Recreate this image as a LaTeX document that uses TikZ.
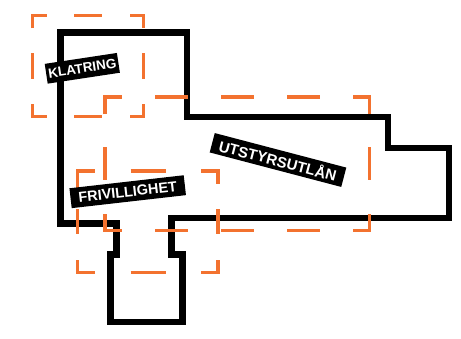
\documentclass[tikz,border=0pt]{standalone}
\usepackage{fontspec}
\setmainfont{Liberation Sans}
\definecolor{planorange}{HTML}{F3722F}
\tikzset{
  wall/.style={draw=black,line width=6.8pt,line join=miter},
  zone/.style={draw=planorange,line width=3.2pt,line cap=butt,line join=miter},
  tag/.style={fill=black,text=white,inner sep=0pt,align=center,minimum height=20pt,font=\bfseries\fontsize{13.5}{14}\selectfont}
}
\begin{document}
\begin{tikzpicture}[x=1pt,y=-1pt]
\useasboundingbox (0,0) rectangle (461,338);
\fill[white] (0,0) rectangle (461,338);
\draw[wall] (60.7,32.5) -- (187,32.5) -- (187,117) -- (388,117) -- (388,148) -- (449,148) -- (449,218) -- (171.7,218) -- (171.7,254.5) -- (182.7,254.5) -- (182.7,322) -- (110.7,322) -- (110.7,254.5) -- (116.7,254.5) -- (116.7,223.5) -- (60.7,223.5) -- cycle;
% zone KLATRING
\draw[zone] (32.7,28) -- (32.7,15.5) -- (46.5,15.5) (74,15.5) -- (102,15.5) (130,15.5) -- (143.7,15.5) -- (143.7,28)
  (32.7,53) -- (32.7,79) (143.7,53) -- (143.7,79)
  (32.7,104) -- (32.7,116.7) -- (46.5,116.7) (74,116.7) -- (102,116.7) (130,116.7) -- (143.7,116.7) -- (143.7,104);
% zone UTSTYRSUTLAN
\draw[zone] (105,114) -- (105,97) -- (121.7,97) (155,97) -- (187.7,97) (221,97) -- (253.5,97) (287,97) -- (320,97) (353,97) -- (369.3,97) -- (369.3,114)
  (105,147) -- (105,180) (369.3,147) -- (369.3,180)
  (105,214) -- (105,230.7) -- (121.7,230.7) (155,230.7) -- (187.7,230.7) (221,230.7) -- (253.5,230.7) (287,230.7) -- (320,230.7) (353,230.7) -- (369.3,230.7) -- (369.3,214);
% zone FRIVILLIGHET
\draw[zone] (77.7,192) -- (77.7,171) -- (95,171) (130.7,171) -- (165.7,171) (201,171) -- (218,171) -- (218,184)
  (77.7,209) -- (77.7,234) (218,209) -- (218,234)
  (77.7,260) -- (77.7,272.7) -- (95,272.7) (130.7,272.7) -- (165.7,272.7) (201,272.7) -- (218,272.7) -- (218,260);
\node[tag,rotate=8.6,minimum width=73pt] (klatring) at (82.3,68.3) {KLATRING};
\node[tag,rotate=6.5,minimum width=115pt] (frivillighet) at (127.7,191.7) {\fontsize{14.5}{15}\selectfont FRIVILLIGHET};
\node[tag,rotate=-14.7,minimum width=136pt] (utstyr) at (278,160) {\fontsize{15}{16}\selectfont UTSTYRSUTLÅN};
\end{tikzpicture}
\end{document}
